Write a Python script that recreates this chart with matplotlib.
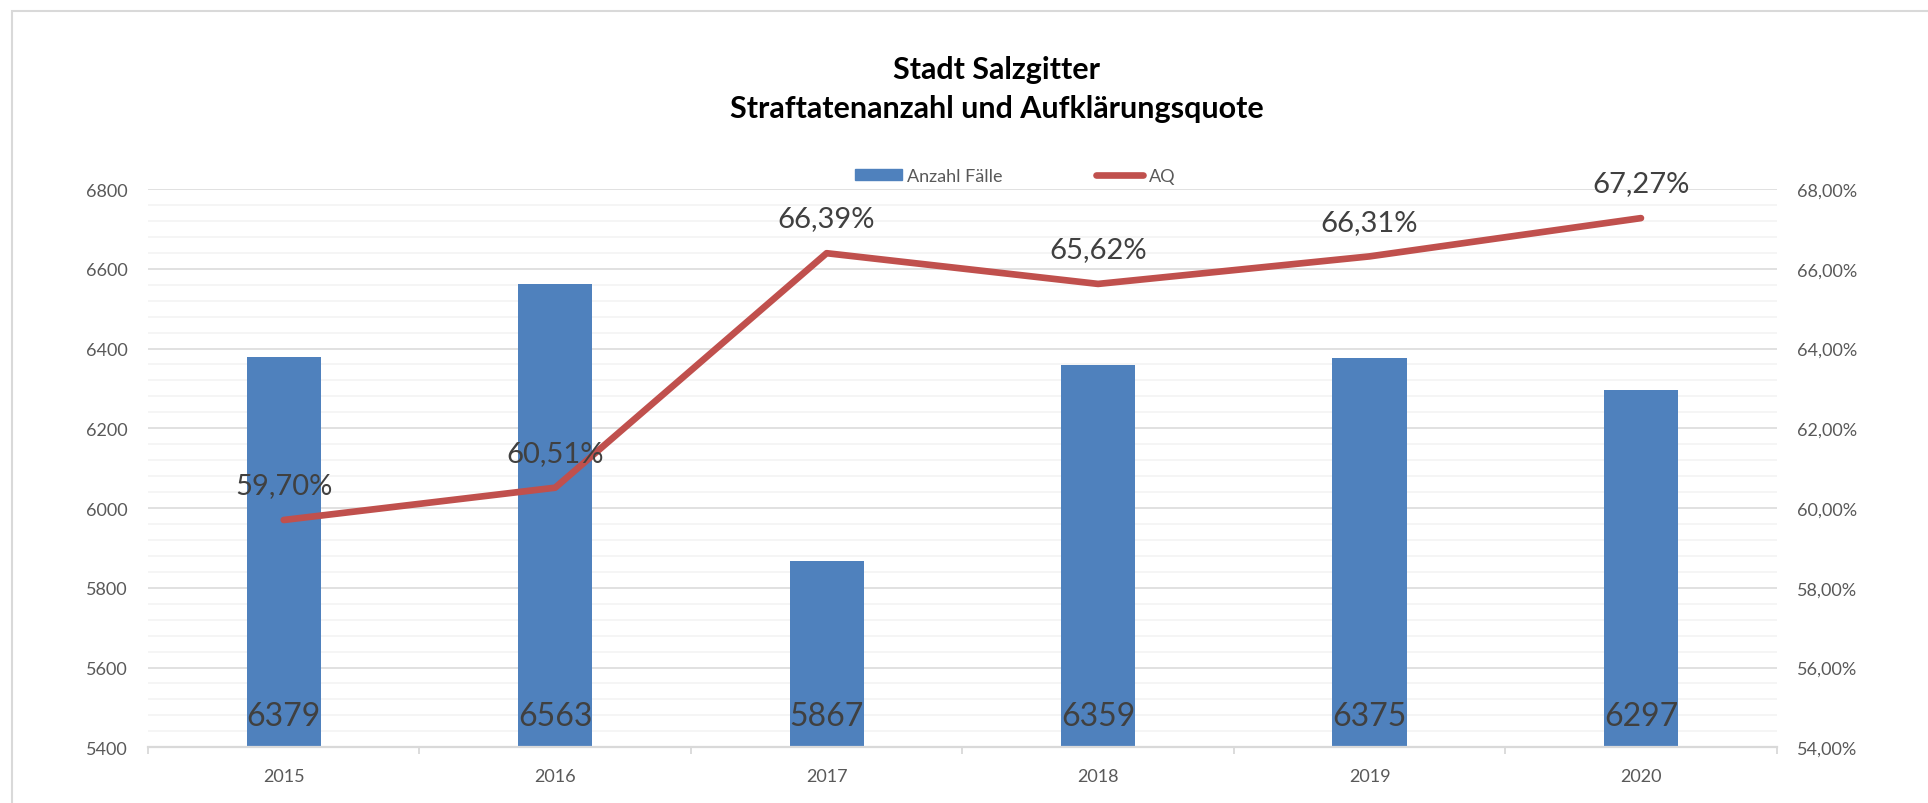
import matplotlib.pyplot as plt
from matplotlib.patches import Rectangle
from matplotlib.lines import Line2D
from matplotlib.ticker import MultipleLocator, FuncFormatter

# Chart data.
years = ['2015', '2016', '2017', '2018', '2019', '2020']
cases = [6379, 6563, 5867, 6359, 6375, 6297]
aq = [59.70, 60.51, 66.39, 65.62, 66.31, 67.27]

title_top = "Stadt Salzgitter"
title_bottom = "Straftatenanzahl und Aufklärungsquote"
label_cases = "Anzahl Fälle"
label_aq = "AQ"

BAR_COLOR = '#4F81BD'
LINE_COLOR = '#C0504D'
GRID_MAJOR = '#D9D9D9'
GRID_MINOR = '#F2F2F2'
TICK_COLOR = '#595959'
LABEL_COLOR = '#404040'

plt.rcParams['font.family'] = ['Lato', 'DejaVu Sans']

fig = plt.figure(figsize=(19.28, 8.04), dpi=100)
ax = fig.add_axes([0.07676, 0.06928, 0.84476, 0.6944])
ax2 = ax.twinx()

x = list(range(len(years)))

# Bars with value labels at the base.
ax.bar(x, cases, width=0.273, color=BAR_COLOR, zorder=2)
for xi, val in zip(x, cases):
    ax.annotate(str(val), xy=(xi, 5400), xytext=(0, 22.7),
                textcoords='offset points', ha='center', va='center',
                fontsize=23, color=LABEL_COLOR, zorder=5)

ax.set_xlim(-0.5, len(years) - 0.5)
ax.set_ylim(5400, 6800)
ax.yaxis.set_major_locator(MultipleLocator(200))
ax.yaxis.set_minor_locator(MultipleLocator(40))
ax.set_axisbelow(True)
ax.grid(axis='y', which='major', color=GRID_MAJOR, linewidth=1.1)
ax.grid(axis='y', which='minor', color=GRID_MINOR, linewidth=1.1)

# Category ticks: labels in the middle, marks on the borders.
ax.set_xticks(x)
ax.set_xticklabels(years)
ax.set_xticks([i - 0.5 for i in range(len(years) + 1)], minor=True)
ax.tick_params(axis='x', which='major', length=0, pad=15,
               labelsize=13, labelcolor=TICK_COLOR)
ax.tick_params(axis='x', which='minor', length=5, width=1.3,
               color=GRID_MAJOR)
ax.tick_params(axis='y', which='both', length=0, pad=14.4,
               labelsize=13, labelcolor=TICK_COLOR)

for name in ['top', 'left', 'right']:
    ax.spines[name].set_visible(False)
    ax2.spines[name].set_visible(False)
ax2.spines['bottom'].set_visible(False)
ax.spines['bottom'].set_color(GRID_MAJOR)
ax.spines['bottom'].set_linewidth(1.6)

# Clearance rate on the secondary axis.
ax2.plot(x, aq, color=LINE_COLOR, linewidth=4.8,
         solid_capstyle='round', solid_joinstyle='round', zorder=3)
for xi, val in zip(x, aq):
    ax2.annotate(f"{val:.2f}%".replace('.', ','), xy=(xi, val),
                 xytext=(0, 25), textcoords='offset points',
                 ha='center', va='center', fontsize=21, color=LABEL_COLOR)

ax2.set_ylim(54, 68)
ax2.yaxis.set_major_locator(MultipleLocator(2))
ax2.yaxis.set_major_formatter(
    FuncFormatter(lambda v, pos: f"{v:.2f}%".replace('.', ',')))
ax2.tick_params(axis='y', length=0, pad=14.4, labelsize=13,
                labelcolor=TICK_COLOR)

# Title.
fig.text(0.517, 0.9017, title_top, ha='center', va='baseline',
         fontsize=22, fontweight='bold', color='black')
fig.text(0.517, 0.8529, title_bottom, ha='center', va='baseline',
         fontsize=22, fontweight='bold', color='black')

# Legend.
handles = [Rectangle((0, 0), 1, 1, color=BAR_COLOR),
           Line2D([0], [0], color=LINE_COLOR, linewidth=4.8,
                  solid_capstyle='round')]
fig.legend(handles, [label_cases, label_aq], loc='center',
           bbox_to_anchor=(0.5265, 0.7799), ncol=2, frameon=False,
           fontsize=13, labelcolor=TICK_COLOR, handlelength=2.6,
           handleheight=0.6, handletextpad=0.3, columnspacing=5.2)

# Chart area border (cut off on the right and bottom).
fig.patches.append(Rectangle((12 / 1928, -0.1), 1.2, 1.1 - 12 / 804,
                             transform=fig.transFigure, fill=False,
                             edgecolor=GRID_MAJOR, linewidth=1.5))

plt.savefig('out.png', dpi=100)
